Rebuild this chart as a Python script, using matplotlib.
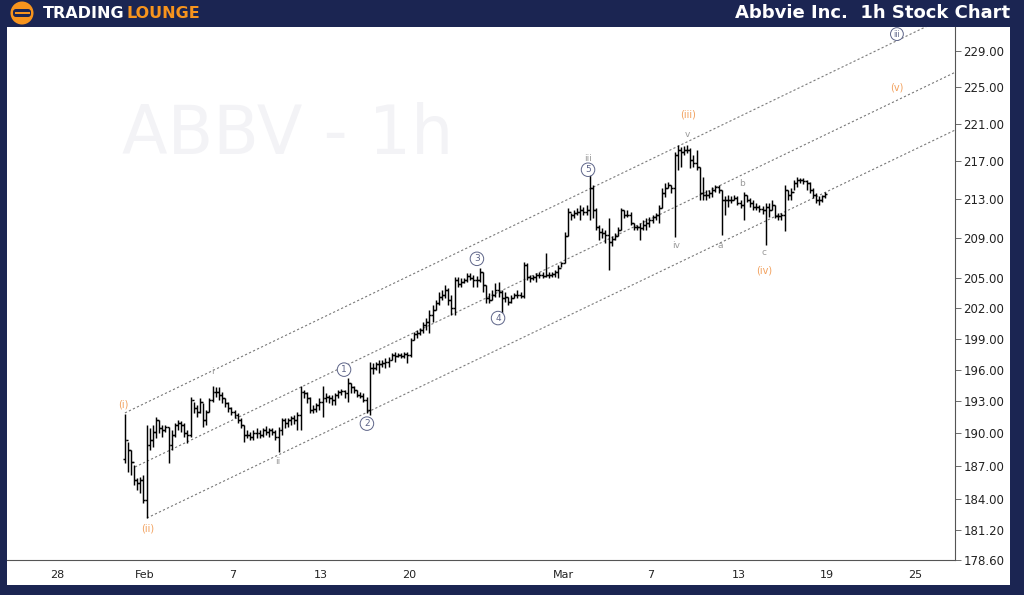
import numpy as np
import matplotlib
matplotlib.use("Agg")
import matplotlib.pyplot as plt
from matplotlib.patches import Rectangle, Circle, FancyBboxPatch
from matplotlib.ticker import FixedLocator, FixedFormatter, NullLocator

# ABBV hourly bars, 7 bars per session, trading day index 3 (Jan 31) .. 34 (Mar 18)
first_day = 3
bars_per_day = 7
first_open = 187.6

highs = [
    191.8, 189.2, 188.5, 187.1, 185.9, 186.0, 186.2,  # Jan 31
    190.8, 190.5, 190.8, 191.5, 191.2, 190.8, 190.8,  # Feb 3
    190.6, 190.3, 191.0, 191.2, 191.1, 191.0, 190.3,  # Feb 4
    193.4, 192.9, 192.6, 193.3, 192.8, 192.2, 193.3,  # Feb 5
    194.4, 194.3, 194.3, 193.9, 193.3, 192.9, 192.5,  # Feb 6
    192.2, 191.9, 191.4, 190.8, 190.3, 190.1, 190.3,  # Feb 7
    190.5, 190.3, 190.5, 190.7, 190.5, 190.5, 190.3,  # Feb 10
    190.6, 191.4, 191.4, 191.4, 191.6, 191.7, 192.0,  # Feb 11
    194.4, 194.1, 193.9, 193.4, 192.6, 192.8, 193.3,  # Feb 12
    194.4, 193.8, 193.6, 193.6, 193.8, 194.1, 194.2,  # Feb 13
    194.1, 195.2, 194.7, 194.4, 194.1, 193.9, 193.8,  # Feb 14
    193.4, 196.7, 196.6, 196.7, 196.9, 196.9, 197.1,  # Feb 18
    197.2, 197.6, 197.7, 197.6, 197.6, 197.7, 197.7,  # Feb 19
    199.1, 199.6, 199.8, 200.0, 200.6, 201.0, 201.8,  # Feb 20
    202.3, 202.8, 203.6, 203.8, 204.3, 204.0, 203.3,  # Feb 21
    205.1, 205.1, 205.0, 205.0, 205.5, 205.5, 205.3,  # Feb 24
    205.2, 206.0, 205.6, 204.3, 203.5, 203.8, 204.5,  # Feb 25
    204.6, 203.8, 203.6, 203.1, 203.3, 203.5, 203.8,  # Feb 26
    203.6, 206.6, 206.5, 205.3, 205.3, 205.5, 205.6,  # Feb 27
    205.6, 207.5, 205.6, 205.6, 205.8, 206.3, 206.6,  # Feb 28
    209.6, 212.1, 211.6, 211.9, 212.1, 212.4, 212.2,  # Mar 3
    212.4, 215.6, 214.5, 212.1, 210.3, 210.0, 209.8,  # Mar 4
    211.1, 209.2, 209.5, 210.1, 212.1, 211.9, 211.9,  # Mar 5
    211.7, 210.6, 210.3, 210.6, 210.9, 211.1, 211.2,  # Mar 6
    211.4, 211.6, 212.4, 214.2, 214.7, 214.8, 214.5,  # Mar 7
    218.0, 218.7, 218.5, 218.6, 218.7, 218.4, 217.7,  # Mar 10
    218.2, 216.4, 215.3, 214.0, 214.0, 214.3, 214.5,  # Mar 11
    214.5, 214.0, 213.3, 213.5, 213.3, 213.5, 213.3,  # Mar 12
    212.9, 213.8, 213.5, 213.1, 212.9, 212.6, 212.4,  # Mar 13
    212.3, 212.6, 212.6, 212.9, 212.4, 211.6, 211.6,  # Mar 14
    214.5, 214.0, 214.2, 215.0, 215.3, 215.2, 215.2,  # Mar 17
    215.0, 214.8, 214.2, 213.7, 213.3, 213.5, 213.8,  # Mar 18
]
lows = [
    187.3, 186.4, 186.2, 185.3, 184.8, 184.5, 183.6,
    182.3, 188.5, 188.7, 189.6, 190.0, 189.7, 190.1,
    187.3, 188.5, 189.7, 190.3, 190.1, 189.7, 189.1,
    189.7, 191.9, 191.5, 191.9, 190.6, 190.8, 192.0,
    192.9, 193.4, 193.1, 192.8, 192.5, 192.0, 191.7,
    191.4, 191.0, 190.5, 189.2, 189.6, 189.4, 189.4,
    189.6, 189.6, 189.7, 189.8, 189.7, 189.8, 189.4,
    188.3, 189.8, 190.5, 190.6, 190.8, 190.9, 190.3,
    190.3, 193.3, 192.8, 191.9, 191.9, 192.0, 192.2,
    191.5, 192.9, 192.8, 192.6, 192.6, 193.3, 193.6,
    193.3, 192.9, 193.8, 193.8, 193.4, 193.3, 192.9,
    191.9, 191.7, 195.6, 196.0, 195.7, 196.3, 196.2,
    196.3, 196.9, 196.7, 197.2, 197.1, 197.1, 196.6,
    197.2, 198.9, 199.1, 199.3, 199.5, 199.8, 199.5,
    200.6, 201.8, 202.3, 202.8, 203.0, 202.3, 201.3,
    201.3, 204.1, 204.1, 204.5, 204.6, 204.8, 204.1,
    204.1, 204.6, 203.6, 202.5, 202.5, 202.8, 203.1,
    203.1, 201.5, 202.6, 202.3, 202.5, 203.0, 203.0,
    203.0, 203.0, 204.8, 204.6, 204.8, 204.6, 205.0,
    205.0, 205.1, 205.0, 205.1, 205.1, 205.0, 206.1,
    206.5, 209.2, 210.9, 211.1, 211.4, 210.9, 211.4,
    211.4, 210.9, 211.1, 209.8, 208.8, 209.0, 208.5,
    205.8, 208.2, 208.8, 209.2, 209.8, 211.1, 211.2,
    210.3, 209.8, 209.8, 208.8, 209.8, 209.8, 210.1,
    210.6, 210.9, 210.5, 212.1, 213.2, 214.2, 213.7,
    209.1, 216.1, 216.4, 217.7, 217.9, 216.3, 216.4,
    216.1, 212.9, 212.9, 212.9, 213.1, 213.2, 213.8,
    213.7, 209.3, 211.4, 212.2, 212.6, 212.9, 212.4,
    212.1, 210.9, 212.7, 212.2, 211.9, 211.9, 211.7,
    211.5, 208.3, 211.2, 211.9, 211.1, 210.9, 210.9,
    209.7, 212.9, 212.9, 214.0, 214.3, 214.7, 214.6,
    214.0, 213.7, 213.1, 212.6, 212.4, 212.7, 213.1,
]
closes = [
    189.4, 188.5, 187.4, 185.7, 185.4, 185.7, 183.9,
    188.9, 189.4, 190.1, 191.2, 190.5, 190.3, 190.6,
    188.9, 189.8, 190.8, 191.0, 190.8, 190.0, 189.8,
    193.1, 192.4, 192.0, 192.9, 191.2, 192.0, 193.1,
    193.9, 193.9, 193.6, 193.3, 192.8, 192.4, 192.0,
    191.7, 191.2, 190.8, 189.8, 189.8, 189.7, 190.0,
    190.0, 189.8, 190.3, 190.1, 190.3, 190.1, 189.7,
    190.3, 191.2, 191.0, 191.2, 191.4, 191.2, 191.7,
    193.9, 193.8, 193.3, 192.2, 192.3, 192.6, 192.9,
    193.3, 193.4, 193.3, 193.1, 193.6, 193.9, 194.0,
    193.8, 194.7, 194.3, 194.1, 193.6, 193.5, 193.1,
    192.2, 196.2, 196.2, 196.5, 196.5, 196.6, 196.7,
    196.9, 197.4, 197.3, 197.4, 197.3, 197.5, 197.4,
    198.9, 199.4, 199.5, 199.8, 200.3, 200.6, 201.3,
    201.8, 202.5, 203.1, 203.3, 203.8, 202.8, 202.0,
    204.8, 204.4, 204.6, 204.8, 205.2, 205.0, 204.8,
    204.8, 205.6, 204.3, 203.0, 202.8, 203.3, 203.8,
    203.6, 203.0, 203.1, 202.6, 203.0, 203.3, 203.3,
    203.2, 206.3, 205.1, 205.0, 205.1, 205.3, 205.3,
    205.2, 205.3, 205.3, 205.4, 205.6, 206.0, 206.5,
    209.2, 211.7, 211.4, 211.6, 211.7, 211.9, 211.7,
    211.9, 214.2, 211.9, 210.1, 209.6, 209.5, 209.3,
    208.6, 208.9, 209.2, 209.8, 211.9, 211.4, 211.4,
    210.6, 210.1, 210.1, 210.0, 210.3, 210.6, 210.9,
    211.2, 211.4, 212.1, 213.7, 214.2, 214.5, 214.2,
    217.7, 218.2, 218.0, 218.2, 218.2, 217.1, 216.8,
    216.4, 213.7, 213.5, 213.5, 213.7, 214.0, 214.3,
    214.0, 212.9, 212.9, 212.9, 212.9, 213.1, 212.6,
    212.4, 213.5, 212.9, 212.6, 212.2, 212.2, 212.0,
    211.9, 212.2, 211.9, 212.4, 211.3, 211.3, 211.4,
    214.0, 213.5, 213.8, 214.7, 215.0, 215.0, 214.9,
    214.7, 214.0, 213.5, 212.9, 212.9, 213.3, 213.6,
]

# x axis: trading-day index (Jan 28 = 0)
date_ticks = [0, 4, 8, 12, 16, 23, 27, 31, 35, 39]
date_labels = ["28", "Feb", "7", "13", "20", "Mar", "7", "13", "19", "25"]
price_ticks = [178.6, 181.2, 184, 187, 190, 193, 196, 199, 202, 205,
               209, 213, 217, 221, 225, 229]

# channel lines (day index, price) start -> end
channel_top = [(3.09, 191.9), (40.8, 233.3)]
channel_mid = [(3.55, 186.9), (40.8, 226.6)]
channel_low = [(4.09, 182.3), (40.8, 220.3)]

# Elliott wave labels: text, day index, price, style
wave_labels = [
    ("(i)", 3.0, 192.7, "orange"),
    ("(ii)", 4.14, 181.4, "orange"),
    ("i", 7.05, 195.8, "gray"),
    ("ii", 10.05, 187.4, "gray"),
    ("1", 13.05, 196.0, "circle"),
    ("2", 14.09, 190.9, "circle"),
    ("3", 19.09, 206.9, "circle"),
    ("4", 20.05, 201.0, "circle"),
    ("iii", 24.14, 217.3, "gray"),
    ("5", 24.14, 216.1, "circle"),
    ("(iii)", 28.68, 222.0, "orange"),
    ("v", 28.68, 219.8, "gray"),
    ("iv", 28.14, 208.2, "gray"),
    ("a", 30.14, 208.2, "gray"),
    ("b", 31.14, 214.7, "gray"),
    ("c", 32.14, 207.5, "gray"),
    ("(iv)", 32.14, 205.7, "orange"),
    ("(v)", 38.18, 225.0, "orange"),
    ("iii", 38.18, 230.9, "circle"),
]

NAVY = "#1b2552"
ORANGE = "#f2a05c"
GRAY_TXT = "#9a9a9a"
CIRCLE_C = "#5d6488"

fig = plt.figure(figsize=(10.24, 5.95), dpi=100, facecolor=NAVY)
fig.add_artist(Rectangle((7 / 1024, 10 / 595), 1003 / 1024, 558 / 595,
                         transform=fig.transFigure, facecolor="white",
                         edgecolor="none", zorder=-1))

ax = fig.add_axes([7 / 1024, 35 / 595, 948 / 1024, 533 / 595])
ax.set_facecolor("white")

# OHLC bars
n = len(closes)
bar_x = np.array([first_day + i // bars_per_day + ((i % bars_per_day) + 0.5) / bars_per_day
                  for i in range(n)])
opens = [first_open] + closes[:-1]
tick_w = 0.09
ax.vlines(bar_x, lows, highs, colors="black", lw=1.05, zorder=3)
ax.hlines(opens, bar_x - tick_w, bar_x, colors="black", lw=1.05, zorder=3)
ax.hlines(closes, bar_x, bar_x + tick_w, colors="black", lw=1.05, zorder=3)

# channel
for line in (channel_top, channel_mid, channel_low):
    xs, ys = zip(*line)
    ax.plot(xs, ys, color="#7a7a7a", lw=0.8, linestyle=(0, (2, 2)), zorder=2)

# wave labels
for text, xd, yp, style in wave_labels:
    if style == "orange":
        ax.text(xd, yp, text, color=ORANGE, fontsize=7, ha="center", va="center", zorder=4)
    elif style == "gray":
        ax.text(xd, yp, text, color=GRAY_TXT, fontsize=6.5, ha="center", va="center", zorder=4)
    else:
        ax.text(xd, yp, text, color=CIRCLE_C, fontsize=5.5 if len(text) > 1 else 6.5,
                ha="center", va="center", zorder=4,
                bbox=dict(boxstyle="circle,pad=0.25", fc="white", ec=CIRCLE_C, lw=0.7))

# watermark
ax.text(0.121, 0.797, "ABBV - 1h", transform=ax.transAxes, fontsize=48,
        color="#f3f3f6", ha="left", va="center", zorder=0)

ax.set_yscale("log")
ax.set_ylim(178.6, 231.7)
ax.set_xlim(-2.27, 40.82)
ax.yaxis.set_major_locator(FixedLocator(price_ticks))
ax.yaxis.set_major_formatter(FixedFormatter([f"{v:.2f}" for v in price_ticks]))
ax.yaxis.set_minor_locator(NullLocator())
ax.set_xticks(date_ticks)
ax.set_xticklabels(date_labels)

for side in ("top", "left"):
    ax.spines[side].set_visible(False)
for side in ("bottom", "right"):
    ax.spines[side].set_color("#555555")
    ax.spines[side].set_linewidth(0.8)

ax.tick_params(axis="y", which="major", direction="out", length=4, width=0.6,
               color="#555555", labelsize=8.5, labelcolor="#222222", pad=2,
               right=True, left=False, labelright=True, labelleft=False)
ax.tick_params(axis="x", length=0, labelsize=8, labelcolor="#222222", pad=7)

# header
ax_h = fig.add_axes([0, 1 - 27 / 595, 1, 27 / 595])
ax_h.set_xlim(0, 1024)
ax_h.set_ylim(27, 0)
ax_h.axis("off")
ax_h.add_patch(Circle((22, 13), 11.5, fc="#f7941d", ec="none"))
ax_h.add_patch(FancyBboxPatch((13, 9), 18, 8, boxstyle="round,pad=0,rounding_size=3",
                              fc=NAVY, ec="none"))
ax_h.add_patch(Rectangle((14.5, 12.2), 15, 1.8, fc="#f7941d", ec="none"))
ax_h.text(43, 14, "TRADING", color="white", fontsize=11.5, fontweight="bold",
          va="center", ha="left")
ax_h.text(126, 14, "LOUNGE", color="#f7941d", fontsize=11.5, fontweight="bold",
          va="center", ha="left")
ax_h.text(1010, 13.5, "Abbvie Inc.  1h Stock Chart", color="white", fontsize=13,
          fontweight="bold", va="center", ha="right")

fig.savefig("out.png", dpi=100, facecolor=NAVY)
